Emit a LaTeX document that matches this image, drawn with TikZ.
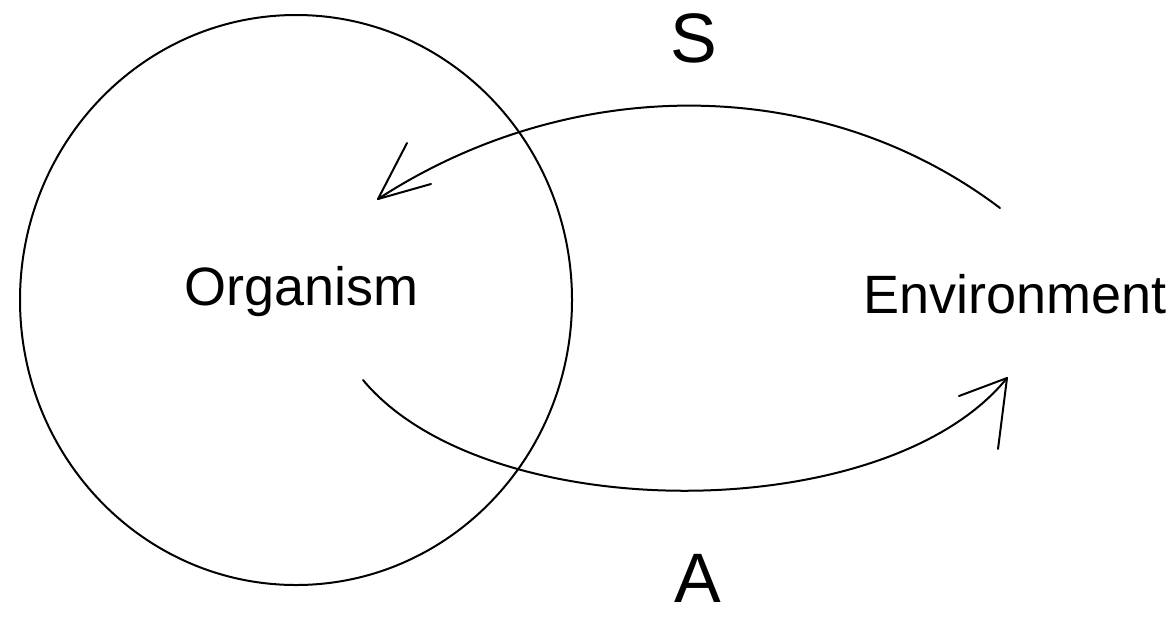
\documentclass[tikz,border=0pt]{standalone}
\usepackage{fontspec}
\setmainfont{Liberation Sans}
\begin{document}
\begin{tikzpicture}[x=0.5pt,y=-0.5pt,
  line/.style={line width=1pt,black,line cap=round,line join=round},
  lbl/.style={inner sep=0pt,anchor=base,font=\fontsize{27}{32}\selectfont},
  big/.style={inner sep=0pt,anchor=base,font=\fontsize{35}{40}\selectfont}]
\useasboundingbox[fill=white] (0,0) rectangle (1176,616);
% organism circle
\draw[line] (296,300) ellipse [x radius=276, y radius=285];
% labels
\node[lbl] (organism) at (301.5,305) {Organism};
\node[lbl] (environment) at (1015,313) {Environment};
\node[big] (s) at (694,62) {S};
\node[big] (a) at (698,602) {A};
% endpoints
\coordinate (sstart) at (1000,208);
\coordinate (send) at (378,199);
\coordinate (astart) at (363,380);
\coordinate (aend) at (1007,378);
% S arrow (environment -> organism)
\draw[line] (sstart) .. controls (820,72) and (570,74) .. (send);
\draw[line] (send) -- (407,143);
\draw[line] (send) -- (431,184);
% A arrow (organism -> environment)
\draw[line] (astart) .. controls (486,528) and (886,528) .. (aend);
\draw[line] (aend) -- (959,396);
\draw[line] (aend) -- (998,449);
\end{tikzpicture}
\end{document}
